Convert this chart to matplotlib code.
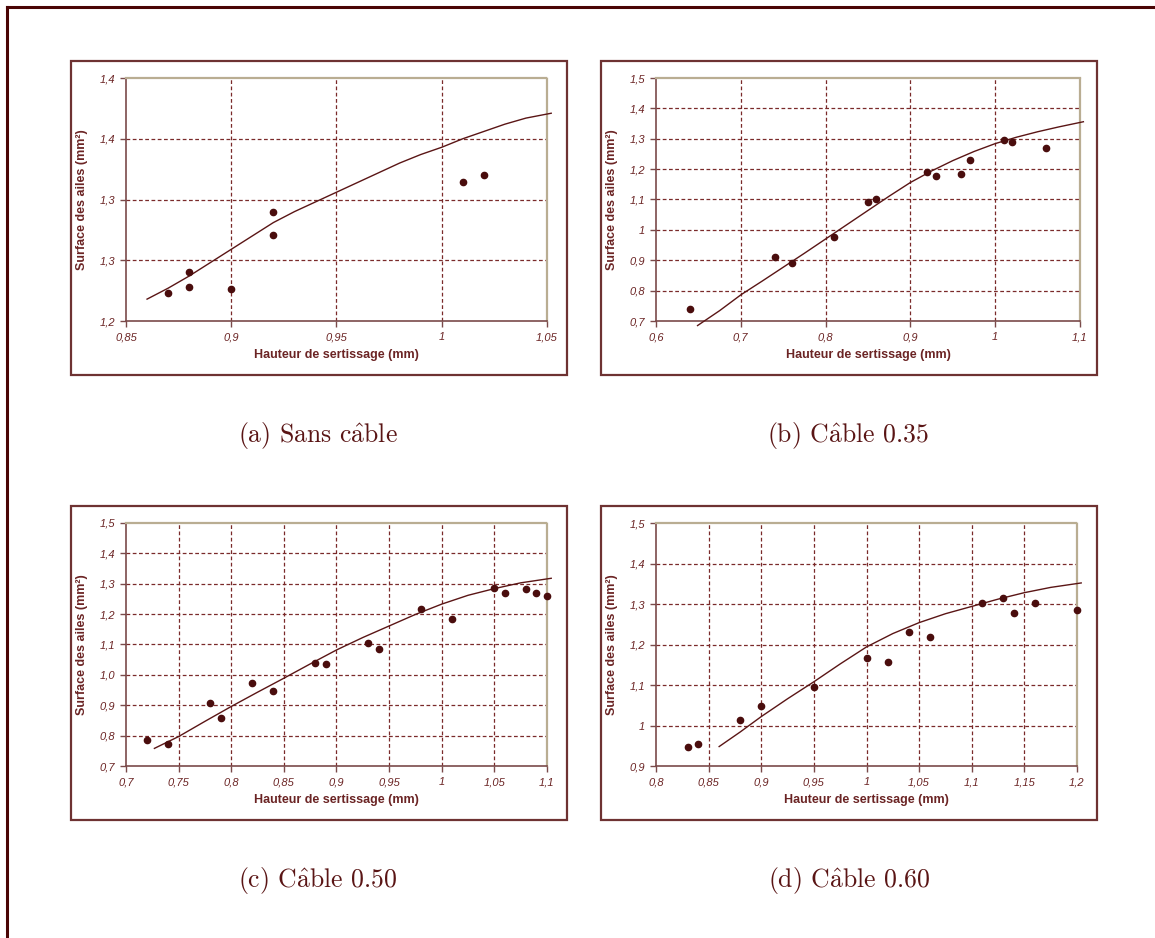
import matplotlib
matplotlib.use("Agg")
import matplotlib.pyplot as plt
from matplotlib.patches import Rectangle

plt.rcParams["mathtext.fontset"] = "cm"

# ---- data ----
# (a) Sans câble
a_x = [0.87, 0.88, 0.88, 0.90, 0.92, 0.92, 1.01, 1.02]
a_y = [1.223, 1.240, 1.228, 1.226, 1.290, 1.271, 1.314, 1.320]
a_fit_x = [0.86, 0.87, 0.88, 0.89, 0.90, 0.91, 0.92, 0.93, 0.94, 0.95, 0.96,
           0.97, 0.98, 0.99, 1.00, 1.01, 1.02, 1.03, 1.04, 1.052]
a_fit_y = [1.218, 1.227, 1.237, 1.248, 1.259, 1.270, 1.281, 1.290, 1.298, 1.306,
           1.314, 1.322, 1.330, 1.337, 1.343, 1.350, 1.356, 1.362, 1.367, 1.371]
a_xticks = [0.85, 0.90, 0.95, 1.00, 1.05]
a_xlabels = ["0,85", "0,9", "0,95", "1", "1,05"]
a_yticks = [1.20, 1.25, 1.30, 1.35, 1.40]
a_ylabels = ["1,2", "1,3", "1,3", "1,4", "1,4"]

# (b) Câble 0.35
b_x = [0.64, 0.74, 0.76, 0.81, 0.85, 0.86, 0.92, 0.93, 0.96, 0.97, 1.01, 1.02, 1.06]
b_y = [0.738, 0.912, 0.892, 0.976, 1.091, 1.102, 1.192, 1.178, 1.185, 1.231,
       1.295, 1.290, 1.270]
b_fit_x = [0.649, 0.675, 0.70, 0.725, 0.75, 0.775, 0.80, 0.825, 0.85, 0.875,
           0.90, 0.925, 0.95, 0.975, 1.00, 1.025, 1.05, 1.075, 1.104]
b_fit_y = [0.685, 0.734, 0.786, 0.831, 0.877, 0.923, 0.970, 1.017, 1.064, 1.111,
           1.156, 1.194, 1.228, 1.258, 1.284, 1.305, 1.323, 1.339, 1.356]
b_xticks = [0.6, 0.7, 0.8, 0.9, 1.0, 1.1]
b_xlabels = ["0,6", "0,7", "0,8", "0,9", "1", "1,1"]
b_yticks = [0.7, 0.8, 0.9, 1.0, 1.1, 1.2, 1.3, 1.4, 1.5]
b_ylabels = ["0,7", "0,8", "0,9", "1", "1,1", "1,2", "1,3", "1,4", "1,5"]

# (c) Câble 0.50
c_x = [0.72, 0.74, 0.78, 0.79, 0.82, 0.84, 0.88, 0.89, 0.93, 0.94, 0.98, 1.01,
       1.05, 1.06, 1.08, 1.09, 1.10]
c_y = [0.786, 0.773, 0.909, 0.857, 0.973, 0.947, 1.040, 1.036, 1.104, 1.084,
       1.217, 1.184, 1.285, 1.269, 1.284, 1.268, 1.260]
c_fit_x = [0.727, 0.75, 0.775, 0.80, 0.825, 0.85, 0.875, 0.90, 0.925, 0.95,
           0.975, 1.00, 1.025, 1.05, 1.075, 1.104]
c_fit_y = [0.758, 0.797, 0.847, 0.896, 0.943, 0.989, 1.036, 1.082, 1.123, 1.161,
           1.199, 1.233, 1.262, 1.284, 1.303, 1.318]
c_xticks = [0.70, 0.75, 0.80, 0.85, 0.90, 0.95, 1.00, 1.05, 1.10]
c_xlabels = ["0,7", "0,75", "0,8", "0,85", "0,9", "0,95", "1", "1,05", "1,1"]
c_yticks = [0.7, 0.8, 0.9, 1.0, 1.1, 1.2, 1.3, 1.4, 1.5]
c_ylabels = ["0,7", "0,8", "0,9", "1,0", "1,1", "1,2", "1,3", "1,4", "1,5"]

# (d) Câble 0.60
d_x = [0.83, 0.84, 0.88, 0.90, 0.95, 1.00, 1.02, 1.04, 1.06, 1.11, 1.13, 1.14,
       1.16, 1.20]
d_y = [0.946, 0.955, 1.014, 1.047, 1.095, 1.166, 1.158, 1.231, 1.218, 1.302,
       1.315, 1.279, 1.302, 1.284]
d_fit_x = [0.86, 0.88, 0.90, 0.925, 0.95, 0.975, 1.00, 1.025, 1.05, 1.075,
           1.10, 1.125, 1.15, 1.175, 1.204]
d_fit_y = [0.948, 0.984, 1.022, 1.066, 1.108, 1.152, 1.194, 1.227, 1.254, 1.276,
           1.294, 1.312, 1.328, 1.341, 1.352]
d_xticks = [0.80, 0.85, 0.90, 0.95, 1.00, 1.05, 1.10, 1.15, 1.20]
d_xlabels = ["0,8", "0,85", "0,9", "0,95", "1", "1,05", "1,1", "1,15", "1,2"]
d_yticks = [0.9, 1.0, 1.1, 1.2, 1.3, 1.4, 1.5]
d_ylabels = ["0,9", "1", "1,1", "1,2", "1,3", "1,4", "1,5"]

# "â" is not in cmr10, so the accent goes through mathtext (cm fontset)
captions = [r"(a) Sans c$\hat{\mathrm{a}}$ble",
            r"(b) C$\hat{\mathrm{a}}$ble 0.35",
            r"(c) C$\hat{\mathrm{a}}$ble 0.50",
            r"(d) C$\hat{\mathrm{a}}$ble 0.60"]

# ---- style ----
MAROON = "#6b2424"
DARK = "#4a0d0d"
GRID = "#7a2a2a"
EDGE = "#b9ad92"
FRAME = "#4a0505"
BOX = "#6e3232"

W, H = 1155, 938
fig = plt.figure(figsize=(W / 100, H / 100), dpi=100)


def fx(px):
    return px / W


def fy(py):
    return 1 - py / H


# outer frame (top and left edges only)
fig.add_artist(plt.Line2D([fx(7), 1.0], [fy(7), fy(7)], color=FRAME, lw=2.2))
fig.add_artist(plt.Line2D([fx(7), fx(7)], [fy(7), 0.0], color=FRAME, lw=2.2))

panels = [
    (a_x, a_y, a_fit_x, a_fit_y, a_xticks, a_xlabels, a_yticks, a_ylabels,
     (126, 78, 547, 321), (71, 61, 567, 375), (318, 435)),
    (b_x, b_y, b_fit_x, b_fit_y, b_xticks, b_xlabels, b_yticks, b_ylabels,
     (656, 78, 1080, 321), (601, 61, 1097, 375), (848, 435)),
    (c_x, c_y, c_fit_x, c_fit_y, c_xticks, c_xlabels, c_yticks, c_ylabels,
     (126, 523, 547, 766), (71, 506, 567, 820), (318, 880)),
    (d_x, d_y, d_fit_x, d_fit_y, d_xticks, d_xlabels, d_yticks, d_ylabels,
     (656, 523, 1077, 766), (601, 506, 1097, 820), (849, 880)),
]

for k, (xs, ys, fxs, fys, xt, xl, yt, yl, ax_px, box_px, cap_px) in enumerate(panels):
    bx0, by0, bx1, by1 = box_px
    fig.add_artist(Rectangle((fx(bx0), fy(by1)), fx(bx1 - bx0), (by1 - by0) / H,
                             fill=False, edgecolor=BOX, lw=1.6))

    x0, y0, x1, y1 = ax_px
    ax = fig.add_axes([fx(x0), fy(y1), fx(x1 - x0), (y1 - y0) / H])
    ax.set_xlim(xt[0], xt[-1])
    ax.set_ylim(yt[0], yt[-1])
    ax.set_xticks(xt)
    ax.set_xticklabels(xl)
    ax.set_yticks(yt)
    ax.set_yticklabels(yl)

    for v in xt[1:-1]:
        ax.axvline(v, color=GRID, lw=0.9, ls=(0, (3, 2)), zorder=1)
    for v in yt[1:-1]:
        ax.axhline(v, color=GRID, lw=0.9, ls=(0, (3, 2)), zorder=1)

    ax.plot(fxs, fys, color="#5a1515", lw=1.0, zorder=3, clip_on=False)
    ax.plot(xs, ys, "o", color=DARK, ms=4.5, zorder=4, clip_on=False)

    for s in ("left", "bottom"):
        ax.spines[s].set_color("#7a4a4a")
        ax.spines[s].set_linewidth(1.2)
    for s in ("top", "right"):
        ax.spines[s].set_color(EDGE)
        ax.spines[s].set_linewidth(1.6)
        ax.spines[s].set_linestyle((0, (1.5, 1)))

    ax.tick_params(direction="out", length=4, width=1, color="#7a4a4a",
                   labelsize=8, labelcolor=MAROON, pad=4)
    for lab in ax.get_xticklabels() + ax.get_yticklabels():
        lab.set_fontstyle("italic")
        lab.set_family("Liberation Sans")

    ax.set_xlabel("Hauteur de sertissage (mm)", fontsize=9, fontweight="bold",
                  color=MAROON, family="Liberation Sans", labelpad=5)
    ax.set_ylabel("Surface des ailes (mm²)", fontsize=9, fontweight="bold",
                  color=MAROON, family="Liberation Sans", labelpad=8)

    fig.text(fx(cap_px[0]), fy(cap_px[1]), captions[k], ha="center", va="center",
             fontsize=18.5, color="#5a1515", family="cmr10")

fig.savefig("out.png", dpi=100)
